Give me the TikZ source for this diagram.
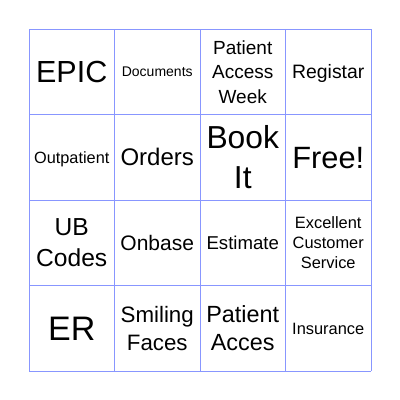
\documentclass[tikz,border=0pt]{standalone}
\usepackage{fontspec}
\setmainfont{Liberation Sans}
\definecolor{gridline}{RGB}{136,150,255}
\tikzset{
  cell/.style={align=center, inner sep=0pt, text=black},
  oneline/.style={cell, font={\fontsize{#1bp}{#1bp}\selectfont}, anchor=base, yshift={-0.358*#1bp}},
  gridln/.style={draw=gridline, line width=1bp}
}
\begin{document}
\begin{tikzpicture}[x=1bp,y=-1bp]
\useasboundingbox (0,0) rectangle (400,400);
\fill[white] (0,0) rectangle (400,400);
\foreach \i in {0,1,2,3,4} {
  \draw[gridln] ({29+85.5*\i},29) -- ({29+85.5*\i},371);
  \draw[gridln] (29,{29+85.5*\i}) -- (371,{29+85.5*\i});
}
% row 1
\node[oneline=30.5] (c11) at (71.75,71.75) {EPIC};
\node[oneline=14] (c12) at (157.25,71.75) {Documents};
\node[cell, font={\fontsize{19bp}{24.5bp}\selectfont}] (c13) at (242.75,71.75) {Patient\\Access\\Week};
\node[oneline=19.4] (c14) at (328.25,71.75) {Registar};
% row 2
\node[oneline=16.3] (c21) at (71.75,157.25) {Outpatient};
\node[oneline=24] (c22) at (157.25,157.25) {Orders};
\node[cell, font={\fontsize{31.8bp}{40bp}\selectfont}] (c23) at (242.75,157.25) {Book\\It};
\node[oneline=30.8] (c24) at (328.25,157.25) {Free!};
% row 3
\node[cell, font={\fontsize{24.6bp}{31bp}\selectfont}] (c31) at (71.75,242.75) {UB\\Codes};
\node[oneline=21] (c32) at (157.25,242.75) {Onbase};
\node[oneline=18.6] (c33) at (242.75,242.75) {Estimate};
\node[cell, font={\fontsize{16.4bp}{20bp}\selectfont}] (c34) at (328.25,242.75) {Excellent\\Customer\\Service};
% row 4
\node[oneline=34] (c41) at (71.75,328.25) {ER};
\node[cell, font={\fontsize{22.3bp}{28bp}\selectfont}] (c42) at (157.25,328.25) {Smiling\\Faces};
\node[cell, font={\fontsize{23.4bp}{28.5bp}\selectfont}] (c43) at (242.75,328.25) {Patient\\Acces};
\node[oneline=16.4] (c44) at (328.25,328.25) {Insurance};
\end{tikzpicture}
\end{document}
